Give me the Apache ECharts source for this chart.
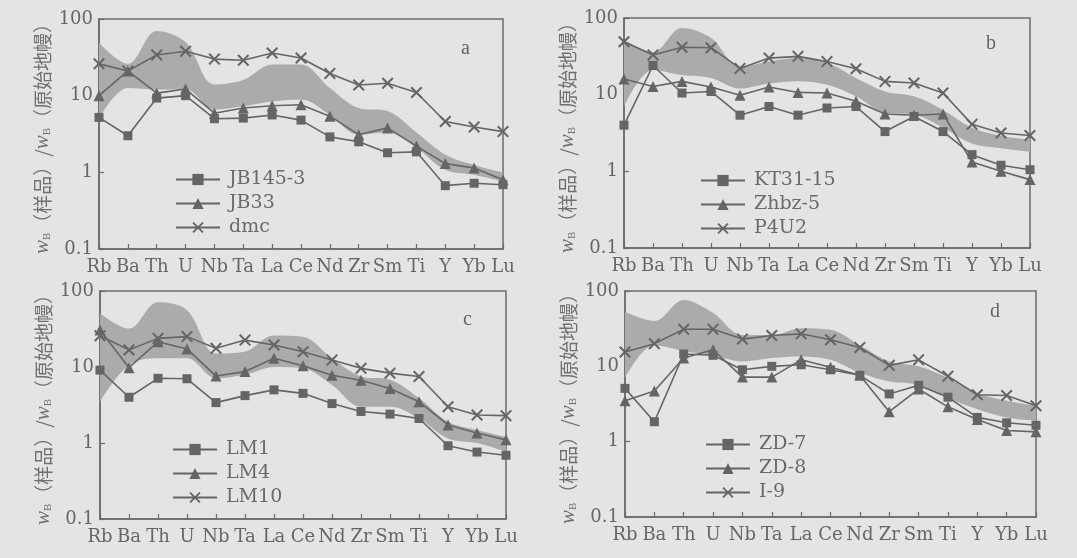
<!DOCTYPE html>
<html>
<head>
<meta charset="utf-8">
<script src="https://cdn.jsdelivr.net/npm/echarts@6/dist/echarts.min.js"></script>
<style>
html,body{margin:0;padding:0;background:#e4e4e4;}
#c{width:1077px;height:558px;}
</style>
</head>
<body>
<div id="c"></div>
<script>
var categories = ['Rb','Ba','Th','U','Nb','Ta','La','Ce','Nd','Zr','Sm','Ti','Y','Yb','Lu'];
var yTickLabels = ['0.1','1','10','100'];

// panel a
var JB145_3 = [5.2, 3.0, 9.3, 10.0, 5.0, 5.1, 5.6, 4.8, 2.9, 2.5, 1.8, 1.85, 0.67, 0.72, 0.69];
var JB33    = [10.0, 21, 10.8, 12.2, 5.9, 6.9, 7.4, 7.6, 5.4, 3.1, 3.8, 2.2, 1.3, 1.14, 0.8];
var dmc     = [26, 21, 34, 38, 30, 29, 36, 31, 19.5, 13.8, 14.5, 11, 4.6, 3.9, 3.4];
var bandA_upper = [49, 26, 70, 50, 14, 16, 25.5, 25.5, 12.6, 6.9, 6.3, 3.3, 1.7, 1.25, 1.0];
var bandA_lower = [5, 12.6, 12, 12, 6.6, 7.3, 8.4, 8.9, 5.6, 3.1, 3.3, 2.1, 1.08, 0.93, 0.76];

// panel b
var KT31_15 = [4.0, 24, 10.5, 11, 5.4, 7.0, 5.4, 6.7, 7.0, 3.3, 5.2, 3.3, 1.65, 1.2, 1.05];
var Zhbz_5  = [16, 12.8, 14.9, 12.6, 9.8, 12.6, 10.7, 10.5, 8.2, 5.6, 5.4, 5.6, 1.32, 1.0, 0.78];
var P4U2    = [49, 33, 41.5, 41, 22, 30, 31.6, 27, 21.8, 14.9, 14.2, 10.5, 4.1, 3.16, 2.93];
var bandB_upper = [52, 36, 74, 55, 23, 27, 30, 26, 16.5, 11, 9.5, 6.3, 3.7, 2.9, 2.6];
var bandB_lower = [7, 21, 18, 16.5, 12, 14, 15, 13.5, 9.5, 5.8, 5.5, 3.7, 2.3, 2.0, 1.8];

// panel c
var LM1  = [9.1, 4.0, 7.1, 7.0, 3.4, 4.2, 5.0, 4.5, 3.3, 2.6, 2.4, 2.1, 0.92, 0.76, 0.69];
var LM4  = [30.7, 9.8, 21.5, 17.3, 7.6, 8.7, 13, 10.4, 7.8, 6.7, 5.2, 3.5, 1.73, 1.35, 1.1];
var LM10 = [25.8, 16.8, 23.8, 25.1, 17.6, 22.6, 19.5, 15.9, 12.4, 9.6, 8.3, 7.5, 3.0, 2.34, 2.29];
var bandC_upper = [51, 32, 71, 56, 15, 16, 26, 25, 13, 7.5, 6.8, 3.9, 1.9, 1.48, 1.2];
var bandC_lower = [3.5, 10.6, 13, 13, 7.1, 7.9, 10, 9.6, 5.8, 3.0, 3.0, 2.1, 1.15, 1.0, 0.77];

// panel d
var ZD_7 = [5.1, 1.84, 14.6, 14.0, 9.0, 10, 10.5, 9.0, 7.6, 4.3, 5.6, 3.9, 2.1, 1.78, 1.65];
var ZD_8 = [3.5, 4.7, 12.9, 16.6, 7.2, 7.2, 12.2, 9.7, 7.6, 2.5, 5.0, 2.9, 1.97, 1.41, 1.35];
var I_9  = [15.5, 20, 31, 31, 23, 25.7, 27, 22.5, 17.8, 10.3, 12.2, 7.4, 4.2, 4.1, 3.0];
var bandD_upper = [53, 40, 76, 51, 26, 26, 32, 30.5, 19, 11.6, 10, 7, 4.4, 3.5, 3.0];
var bandD_lower = [7, 19, 16, 14, 11.6, 12.9, 13.5, 12.2, 8.2, 6.3, 5.7, 3.8, 2.7, 2.1, 1.9];

var panels = [
  {letter:'a', names:['JB145-3','JB33','dmc'], data:[JB145_3, JB33, dmc], up:bandA_upper, lo:bandA_lower,
   grid:{left:99, top:19, width:404, height:230}, legend:{left:170, top:165}, label:[466,50]},
  {letter:'b', names:['KT31-15','Zhbz-5','P4U2'], data:[KT31_15, Zhbz_5, P4U2], up:bandB_upper, lo:bandB_lower,
   grid:{left:624, top:18, width:406, height:230}, legend:{left:695, top:166}, label:[991,45]},
  {letter:'c', names:['LM1','LM4','LM10'], data:[LM1, LM4, LM10], up:bandC_upper, lo:bandC_lower,
   grid:{left:100, top:291, width:406, height:228}, legend:{left:167, top:435}, label:[468,321]},
  {letter:'d', names:['ZD-7','ZD-8','I-9'], data:[ZD_7, ZD_8, I_9], up:bandD_upper, lo:bandD_lower,
   grid:{left:625, top:291, width:411, height:226}, legend:{left:700, top:430}, label:[995,313]}
];

var LC = '#656565';
var SERIF = 'DejaVu Serif';
var crossPath = 'path://M0,1.2 L1.2,0 L5,3.8 L8.8,0 L10,1.2 L6.2,5 L10,8.8 L8.8,10 L5,6.2 L1.2,10 L0,8.8 L3.8,5 Z';
var symbols = [['rect',9],['triangle',11],[crossPath,12]];

var option = {
  backgroundColor:'#e4e4e4',
  animation:false,
  grid:[], xAxis:[], yAxis:[], series:[], legend:[], graphic:[]
};

panels.forEach(function(p, k){
  option.grid.push(Object.assign({show:true, borderColor:'#6b6b6b', borderWidth:1.5, backgroundColor:'transparent'}, p.grid));
  option.xAxis.push({
    type:'category', gridIndex:k, data:categories, boundaryGap:false,
    axisLine:{lineStyle:{color:'#6b6b6b', width:1.5}},
    axisTick:{inside:true, length:5, lineStyle:{color:'#6b6b6b', width:1.2}},
    axisLabel:{color:'#666', fontFamily:SERIF, fontSize:18, margin:9, interval:0}
  });
  option.yAxis.push({
    type:'log', logBase:10, gridIndex:k, min:0.1, max:100,
    axisLine:{show:true, lineStyle:{color:'#6b6b6b', width:1.5}},
    axisTick:{show:true, inside:true, length:5, lineStyle:{color:'#6b6b6b', width:1.2}},
    splitLine:{show:false},
    axisLabel:{color:'#666', fontFamily:SERIF, fontSize:18, margin:6,
      formatter:function(v){ var s = String(+v.toPrecision(3)); return yTickLabels.indexOf(s) >= 0 ? s : ''; }},
    name:'{i|w}{s|B}（样品）/{i|w}{s|B}（原始地幔）',
    nameLocation:'middle', nameRotate:90, nameGap:46,
    nameTextStyle:{color:'#707070', fontFamily:'Noto Sans CJK SC', fontSize:19,
      rich:{
        i:{fontFamily:'Liberation Serif', fontStyle:'italic', fontSize:21, color:'#707070'},
        s:{fontFamily:'Liberation Serif', fontSize:11, color:'#707070', verticalAlign:'bottom', padding:[10,0,0,0]}
      }}
  });
  var diff = p.up.map(function(u,i){ return u - p.lo[i]; });
  option.series.push({
    type:'line', xAxisIndex:k, yAxisIndex:k, data:p.lo, stack:'band'+k, smooth:0.35,
    symbol:'none', lineStyle:{opacity:0}, silent:true, z:1
  });
  option.series.push({
    type:'line', xAxisIndex:k, yAxisIndex:k, data:diff, stack:'band'+k, smooth:0.35,
    symbol:'none', lineStyle:{opacity:0}, areaStyle:{color:'#ababab', opacity:1}, silent:true, z:1
  });
  p.names.forEach(function(nm, j){
    option.series.push({
      name:nm, type:'line', xAxisIndex:k, yAxisIndex:k, data:p.data[j],
      symbol:symbols[j][0], symbolSize:symbols[j][1],
      lineStyle:{color:LC, width:1.6}, itemStyle:{color:LC}, z:3
    });
  });
  option.legend.push({
    data:p.names, orient:'vertical', left:p.legend.left, top:p.legend.top,
    itemWidth:44, itemHeight:14, itemGap:5,
    textStyle:{color:'#6a6a6a', fontFamily:SERIF, fontSize:19, padding:[0,0,0,4]}
  });
  option.graphic.push({type:'text', left:p.label[0]-5, top:p.label[1]-11,
    style:{text:p.letter, font:'20px "Liberation Serif"', fill:'#666'}});
});

var chart = echarts.init(document.getElementById('c'), null, {renderer:'canvas'});
chart.setOption(option);
</script>
</body>
</html>
